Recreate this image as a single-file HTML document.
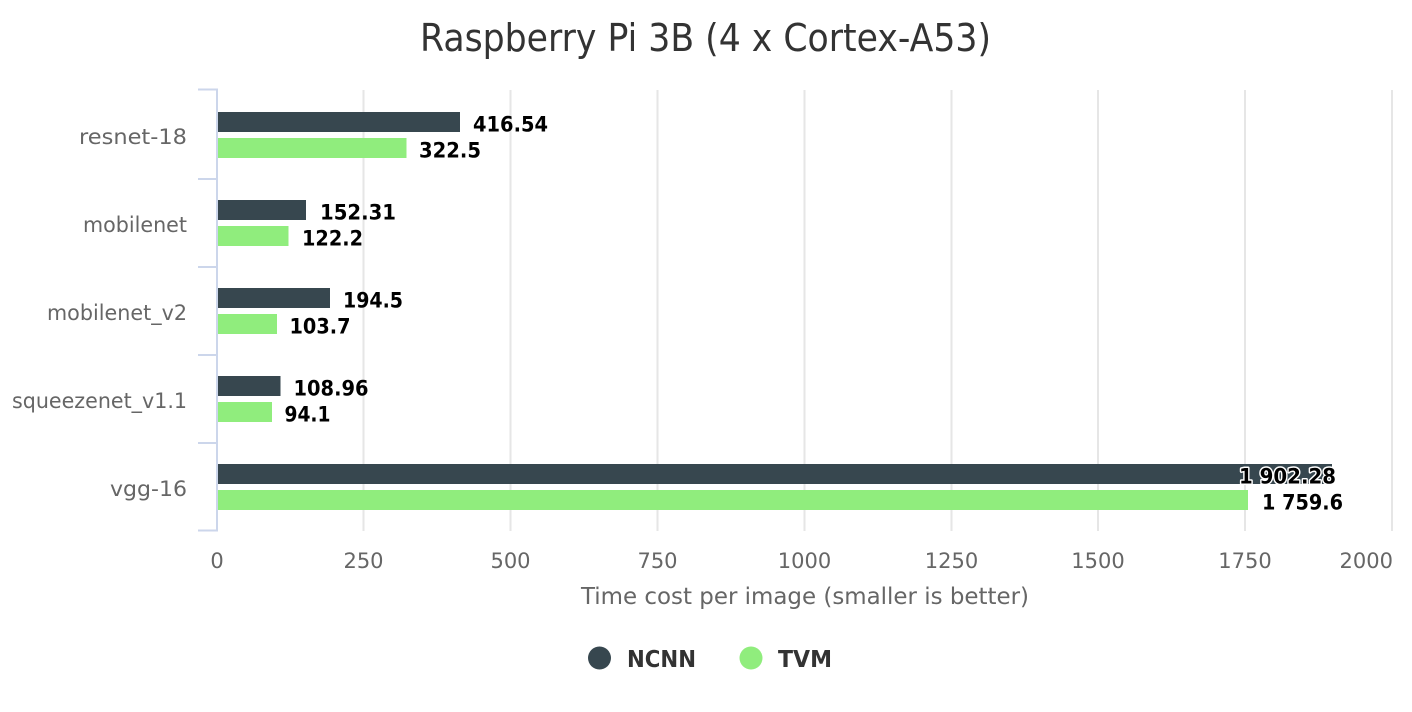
<!DOCTYPE html>
<html>
<head>
<meta charset="utf-8">
<style>
  html, body { margin: 0; padding: 0; background: #ffffff; }
  svg { display: block; }
  text { font-family: "DejaVu Sans", "Liberation Sans", sans-serif; }
</style>
</head>
<body>
<svg width="1412" height="712" viewBox="0 0 1412 712" xmlns="http://www.w3.org/2000/svg">
  <rect x="0" y="0" width="1412" height="712" fill="#ffffff"/>

  <!-- Title -->
  <text x="420" y="51" font-size="38" fill="#333333" textLength="571" lengthAdjust="spacingAndGlyphs">Raspberry Pi 3B (4 x Cortex-A53)</text>

  <!-- Grid lines -->
  <g stroke="#e6e6e6" stroke-width="2">
    <line x1="363.5" y1="90" x2="363.5" y2="531"/>
    <line x1="510.5" y1="90" x2="510.5" y2="531"/>
    <line x1="657.5" y1="90" x2="657.5" y2="531"/>
    <line x1="804.5" y1="90" x2="804.5" y2="531"/>
    <line x1="951.5" y1="90" x2="951.5" y2="531"/>
    <line x1="1098" y1="90" x2="1098" y2="531"/>
    <line x1="1245" y1="90" x2="1245" y2="531"/>
    <line x1="1392" y1="90" x2="1392" y2="531"/>
  </g>

  <!-- Y axis line and ticks -->
  <g stroke="#ccd6eb" stroke-width="2" fill="none">
    <line x1="217" y1="88.5" x2="217" y2="531.5"/>
    <line x1="198" y1="89.5" x2="217" y2="89.5"/>
    <line x1="198" y1="179" x2="217" y2="179"/>
    <line x1="198" y1="267" x2="217" y2="267"/>
    <line x1="198" y1="355" x2="217" y2="355"/>
    <line x1="198" y1="443" x2="217" y2="443"/>
    <line x1="198" y1="530.5" x2="217" y2="530.5"/>
  </g>

  <!-- Category labels -->
  <g font-size="21" fill="#666666" text-anchor="end">
    <text x="187" y="144" textLength="108" lengthAdjust="spacingAndGlyphs">resnet-18</text>
    <text x="187" y="232" textLength="104" lengthAdjust="spacingAndGlyphs">mobilenet</text>
    <text x="187" y="320" textLength="140" lengthAdjust="spacingAndGlyphs">mobilenet_v2</text>
    <text x="187" y="408" textLength="175" lengthAdjust="spacingAndGlyphs">squeezenet_v1.1</text>
    <text x="187" y="496" textLength="77" lengthAdjust="spacingAndGlyphs">vgg-16</text>
  </g>

  <!-- Bars NCNN -->
  <g fill="#37474f">
    <rect x="218" y="112" width="242" height="20"/>
    <rect x="218" y="200" width="88" height="20"/>
    <rect x="218" y="288" width="112" height="20"/>
    <rect x="218" y="376" width="62.5" height="20"/>
    <rect x="218" y="464" width="1114" height="20"/>
  </g>
  <!-- Bars TVM -->
  <g fill="#90ed7d">
    <rect x="218" y="138" width="188.5" height="20"/>
    <rect x="218" y="226" width="70.5" height="20"/>
    <rect x="218" y="314" width="59" height="20"/>
    <rect x="218" y="402" width="54" height="20"/>
    <rect x="218" y="490" width="1030" height="20"/>
  </g>

  <!-- Data labels -->
  <g font-size="21" font-weight="bold" fill="#000000">
    <text x="473" y="131.5" textLength="75" lengthAdjust="spacingAndGlyphs">416.54</text>
    <text x="419" y="157.5" textLength="62" lengthAdjust="spacingAndGlyphs">322.5</text>
    <text x="320" y="219.5" textLength="76" lengthAdjust="spacingAndGlyphs">152.31</text>
    <text x="302" y="245.5" textLength="61" lengthAdjust="spacingAndGlyphs">122.2</text>
    <text x="343" y="307.5" textLength="60" lengthAdjust="spacingAndGlyphs">194.5</text>
    <text x="289.5" y="333.5" textLength="61" lengthAdjust="spacingAndGlyphs">103.7</text>
    <text x="293.5" y="395.5" textLength="75" lengthAdjust="spacingAndGlyphs">108.96</text>
    <text x="284.5" y="421.5" textLength="46" lengthAdjust="spacingAndGlyphs">94.1</text>
    <text x="1239" y="483.5" textLength="97" lengthAdjust="spacingAndGlyphs" stroke="#ffffff" stroke-width="3" stroke-linejoin="round" paint-order="stroke">1 902.28</text>
    <text x="1262" y="509.5" textLength="81" lengthAdjust="spacingAndGlyphs">1 759.6</text>
  </g>

  <!-- X axis labels -->
  <g font-size="21" fill="#666666" text-anchor="middle">
    <text x="217" y="568">0</text>
    <text x="363.5" y="568">250</text>
    <text x="510.5" y="568">500</text>
    <text x="657.5" y="568">750</text>
    <text x="804.5" y="568">1000</text>
    <text x="951.5" y="568">1250</text>
    <text x="1098" y="568">1500</text>
    <text x="1245" y="568">1750</text>
    <text x="1393" y="568" text-anchor="end">2000</text>
  </g>

  <!-- X axis title -->
  <text x="805" y="604" font-size="23" fill="#666666" text-anchor="middle" textLength="448" lengthAdjust="spacingAndGlyphs">Time cost per image (smaller is better)</text>

  <!-- Legend -->
  <circle cx="599.5" cy="658" r="11.5" fill="#37474f"/>
  <text x="627" y="667" font-size="23" font-weight="bold" fill="#333333" textLength="69" lengthAdjust="spacingAndGlyphs">NCNN</text>
  <circle cx="751" cy="658" r="11.5" fill="#90ed7d"/>
  <text x="778" y="667" font-size="23" font-weight="bold" fill="#333333" textLength="54" lengthAdjust="spacingAndGlyphs">TVM</text>
</svg>
</body>
</html>
